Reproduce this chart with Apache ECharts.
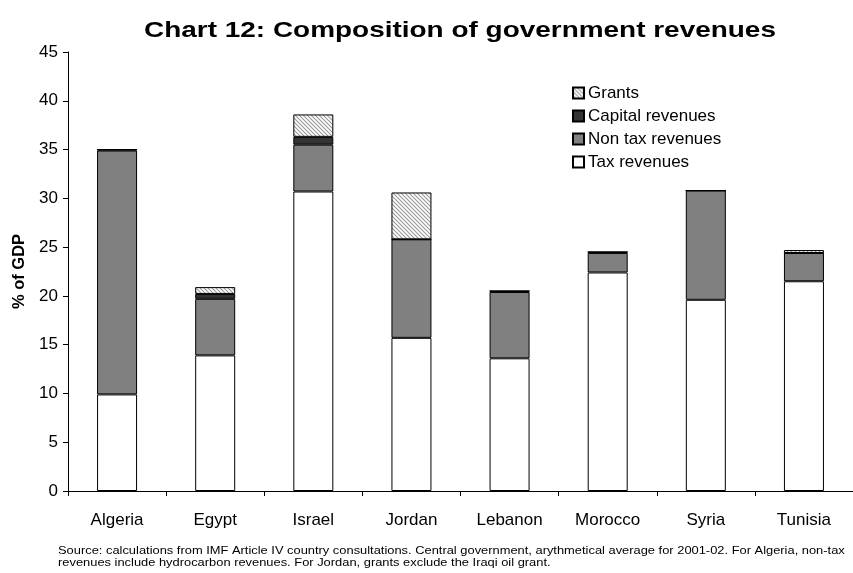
<!DOCTYPE html>
<html>
<head>
<meta charset="utf-8">
<script src="https://cdn.jsdelivr.net/npm/echarts@6/dist/echarts.min.js"></script>
<style>
  html, body { margin: 0; padding: 0; background: #fff; }
  #chart { width: 853px; height: 573px; }
</style>
</head>
<body>
<div id="chart"></div>
<script>
// Government revenues by component, % of GDP (average 2001-02)
const countries = ['Algeria', 'Egypt', 'Israel', 'Jordan', 'Lebanon', 'Morocco', 'Syria', 'Tunisia'];
const taxRevenues     = [9.9, 13.9, 30.7, 15.7, 13.6, 22.4, 19.6, 21.5];
const nonTaxRevenues  = [25.0, 5.8, 4.8, 10.1, 6.8, 2.0, 11.2, 2.9];
const capitalRevenues = [0.1, 0.5, 0.8, 0.0, 0.1, 0.1, 0.0, 0.0];
const grants          = [0.0, 0.7, 2.3, 4.8, 0.0, 0.0, 0.0, 0.3];
const yTicks = [0, 5, 10, 15, 20, 25, 30, 35, 40, 45];

// Diagonal hatch fill for the grants segment
function hatchPattern() {
  const c = document.createElement('canvas');
  c.width = 4; c.height = 4;
  const g = c.getContext('2d');
  g.fillStyle = '#ffffff';
  g.fillRect(0, 0, 4, 4);
  g.strokeStyle = '#999999';
  g.lineWidth = 1.1;
  g.beginPath();
  g.moveTo(-1, -1); g.lineTo(5, 5);
  g.moveTo(-1, 3); g.lineTo(1, 5);
  g.moveTo(3, -1); g.lineTo(5, 1);
  g.stroke();
  return c;
}

const font = 'Arial, "Liberation Sans", sans-serif';
const chart = echarts.init(document.getElementById('chart'), null, { renderer: 'canvas' });

function stack(name, data, color) {
  return {
    name: name,
    type: 'bar',
    stack: 'rev',
    data: data,
    barWidth: 40,
    itemStyle: { color: color, borderColor: '#000', borderWidth: 1 },
    emphasis: { disabled: true }
  };
}

chart.setOption({
  animation: false,
  legend: {
    orient: 'vertical',
    left: 567, top: 79,
    itemWidth: 11, itemHeight: 11, itemGap: 5,
    icon: 'rect',
    textStyle: { fontFamily: font, fontSize: 17, lineHeight: 18, color: '#000', padding: [0, 0, 0, -1] },
    data: ['Grants', 'Capital revenues', 'Non tax revenues', 'Tax revenues']
  },
  grid: { left: 68, right: -5, top: 52, bottom: 82 },
  xAxis: {
    type: 'category',
    data: countries,
    axisLine: { lineStyle: { color: '#000', width: 1 } },
    axisTick: { show: true, length: 5, lineStyle: { color: '#000' } },
    axisLabel: { fontFamily: font, fontSize: 17, color: '#000', margin: 21 }
  },
  yAxis: {
    type: 'value',
    min: yTicks[0], max: yTicks[yTicks.length - 1], interval: 5,
    name: '% of GDP',
    nameLocation: 'middle', nameGap: 40, nameRotate: 90,
    nameTextStyle: { fontFamily: font, fontSize: 16.5, fontWeight: 'bold', color: '#000' },
    axisLine: { show: true, lineStyle: { color: '#000', width: 1 } },
    axisTick: { show: true, length: 5, lineStyle: { color: '#000' } },
    axisLabel: { fontFamily: font, fontSize: 17, color: '#000', margin: 10 },
    splitLine: { show: false }
  },
  series: [
    stack('Tax revenues', taxRevenues, '#ffffff'),
    stack('Non tax revenues', nonTaxRevenues, '#808080'),
    stack('Capital revenues', capitalRevenues, '#333333'),
    stack('Grants', grants, { image: hatchPattern(), repeat: 'repeat' })
  ],
  graphic: [
    {
      type: 'text', x: 460, y: 31, scaleX: 1.27,
      style: {
        text: 'Chart 12: Composition of government revenues',
        align: 'center', verticalAlign: 'middle',
        fontFamily: font, fontSize: 22, fontWeight: 'bold', fill: '#000'
      }
    },
    {
      type: 'text', x: 58, y: 545, scaleX: 1.12,
      style: {
        text: 'Source: calculations from IMF Article IV country consultations. Central government, arythmetical average for 2001-02. For Algeria, non-tax\nrevenues include hydrocarbon revenues. For Jordan, grants exclude the Iraqi oil grant.',
        fontFamily: font, fontSize: 11.5, lineHeight: 12, fill: '#000'
      }
    }
  ]
});
</script>
</body>
</html>
